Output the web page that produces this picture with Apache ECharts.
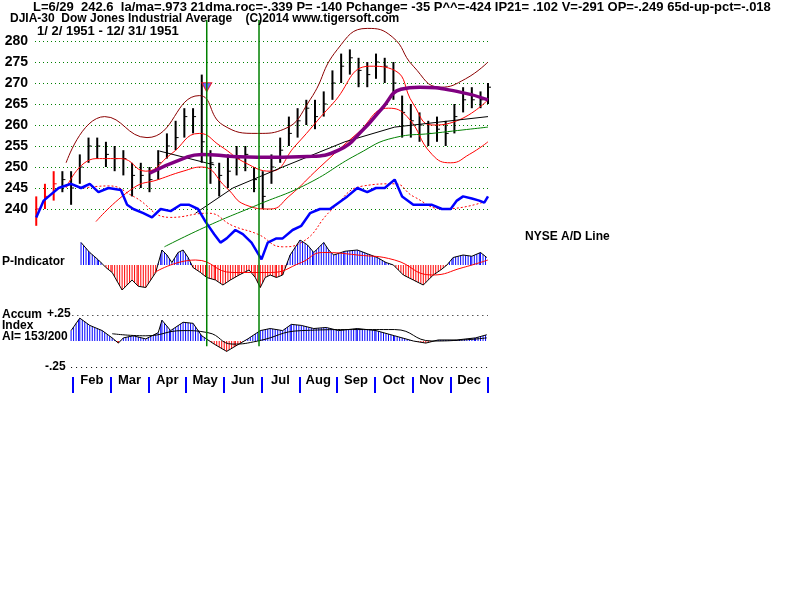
<!DOCTYPE html>
<html><head><meta charset="utf-8">
<script src="https://cdn.jsdelivr.net/npm/echarts@6/dist/echarts.min.js"></script>
<style>body{margin:0;background:#fff}#c{width:800px;height:600px}</style>
</head><body><div id="c"></div>
<script>
const weekDays=[2,9,16,23,30,37,44,51,58,65,72,79,86,93,100,107,114,121,128,135,142,149,156,163,170,177,184,191,198,205,212,219,226,233,240,247,254,261,268,275,282,289,296,303,310,317,324,331,338,345,352,359,365];
const closes=[240,243,246,247,245,250,255,255,253,252,252,248,248,247,251,255,257,262,262,256,251,248,249,252,253,247,243,250,254,258,261,264,262,265,270,274,276,273,272,275,274,270,263,261,260,258,259,258,262,266,266,266,269];
const highs=[243,246,249,249,249,253,257,257,256,255,254,251,251,250,254,258,261,264,264,272,254,251,253,255,255,250,249,253,257,262,264,266,266,268,273,277,278,276,275,277,276,275,267,265,263,261,262,261,265,269,269,268,270];
const lows=[236,240,242,244,241,246,251,252,250,249,248,243,245,244,247,252,254,257,258,251,246,243,245,248,249,244,240,246,251,255,257,260,259,262,266,270,272,269,269,271,270,266,257,257,256,255,256,255,258,263,264,264,265];
const upperOuter=[[26,251],[57,262],[91,257],[133,267],[152,260],[180,258],[201,259],[222,266],[244,278],[268,283],[288,281],[305,274],[327,269],[347,271],[365,275]];
const upperInner=[[26,245],[50,252],[70,252],[90,249],[110,253],[133,258],[150,255],[170,251],[190,249],[210,255],[240,265],[270,274],[290,273],[305,265],[320,260],[340,261],[365,266]];
const lowerInner=[[50,237],[80,245],[100,247],[120,249],[135,250],[155,245],[170,241],[190,240],[205,243],[230,250],[260,258],[285,264],[300,262],[320,253],[335,251],[350,253],[365,256]];
const purpleMA=[[93,248.5],[120,252],[135,253],[160,252.5],[180,252.3],[220,252.5],[245,254],[265,259],[280,264],[295,268.5],[310,269],[340,268],[365,266]];
const blackTrend1=[[101,253.8],[145,250.5]];
const blackTrend2=[[130,239],[160,245],[200,250],[250,256],[290,259.5],[365,262]];
const greenTrend=[[105,231],[140,236],[180,241],[220,246],[260,253],[290,257],[320,258],[365,259.5]];
const adLine=[[2,238],[8,242],[12,243],[20,245],[30,246],[38,245],[45,246],[52,244],[60,245],[70,244.5],[75,241],[80,240],[88,239],[95,238],[102,240],[110,239.5],[118,241],[125,241],[132,240],[138,237],[145,234],[150,232],[155,233],[162,235],[168,234],[175,232],[183,228],[188,232],[195,233],[200,233],[208,235],[215,236],[222,239],[230,240],[238,240],[245,241.5],[252,243],[260,245],[268,244],[275,245],[282,245],[290,247],[296,243],[305,241],[312,241],[320,241],[328,240],[335,240],[340,242],[345,243],[352,242.5],[358,242],[362,241.5],[365,243]];
const adMA=[[40,245],[60,245.5],[80,243],[110,238],[140,239],[160,236],[180,234],[200,231],[215,232],[240,240],[265,245.5],[290,246],[305,243],[330,240],[365,242]];
const pInd=[[38,0.9],[45,0.5],[52,0.2],[58,-0.1],[63,-0.3],[71,-1.0],[79,-0.6],[84,-0.85],[90,-0.9],[98,-0.3],[103,0.6],[107,0.4],[111,0.1],[116,0.5],[120,0.6],[124,0.3],[128,-0.1],[134,-0.3],[139,-0.5],[146,-0.6],[152,-0.8],[158,-0.6],[165,-0.4],[173,-0.2],[178,-0.5],[182,-0.9],[186,-0.5],[190,-0.4],[195,-0.5],[200,-0.4],[206,0.4],[214,1.0],[220,0.8],[225,0.5],[233,0.9],[237,0.6],[241,0.4],[250,0.55],[260,0.6],[268,0.45],[276,0.3],[283,0.1],[289,0],[297,-0.4],[305,-0.6],[313,-0.8],[321,-0.4],[327,-0.2],[332,0],[337,0.3],[345,0.4],[352,0.35],[359,0.5],[364,0.3]];
const pMA=[[97,-0.3],[130,0.2],[160,-0.3],[190,-0.3],[215,0.1],[232,0.5],[260,0.4],[290,0.2],[320,-0.4],[345,-0.1],[365,0.2]];
const accum=[[30,0.1],[37,0.22],[45,0.15],[55,0.1],[63,0.03],[68,-0.02],[72,0.03],[80,0.05],[90,0.02],[100,0.08],[103,0.2],[110,0.1],[120,0.18],[128,0.17],[135,0.05],[145,-0.03],[155,-0.1],[162,-0.05],[172,0.02],[182,0.1],[190,0.12],[200,0.1],[207,0.16],[215,0.15],[225,0.12],[235,0.13],[245,0.1],[260,0.12],[275,0.1],[290,0.05],[305,0.0],[315,-0.02],[325,0.01],[340,0.01],[355,0.03],[364,0.06]];
const accumMA=[[63,0.07],[90,0.05],[120,0.1],[140,0.08],[160,-0.03],[180,0.0],[215,0.1],[260,0.11],[290,0.11],[320,0.0],[345,0.01],[364,0.03]];
const months=['Feb','Mar','Apr','May','Jun','Jul','Aug','Sep','Oct','Nov','Dec'];
const priceTicks=[240,245,250,255,260,265,270,275,280];
const signalDays=[139,181];
const arrowPoint=[[139,269]];

const bars=weekDays.map((d,i)=>[d,closes[i],lows[i],highs[i]]);
const F='Liberation Sans';
const chart=echarts.init(document.getElementById('c'));
const L=35,R=312;
function hatch(src){
 return (p,api)=>{
  const i=p.dataIndex; if(i>=src.length-1) return null;
  const a=src[i],b=src[i+1];
  const pa=api.coord(a),pb=api.coord(b),z=api.coord([a[0],0])[1];
  const kids=[];
  for(let x=pa[0];x<pb[0];x+=2.5){
    const t=(x-pa[0])/(pb[0]-pa[0]||1),y=pa[1]+(pb[1]-pa[1])*t;
    kids.push({type:'line',shape:{x1:x,y1:z,x2:x,y2:y},style:{stroke:y>z?'#ff0000':'#0000ff',lineWidth:1}});
  }
  return {type:'group',children:kids};
 };
}
const dotted={color:'#000',type:[1,4],width:1};
chart.setOption({
 animation:false,
 grid:[{left:L,right:R,top:20,height:210},{left:L,right:R,top:240,height:50},{left:L,right:R,top:315,height:52},{left:73,right:R,top:377,height:16}],
 xAxis:[0,1,2].map(i=>({gridIndex:i,type:'value',min:1,max:365,show:false})).concat([{gridIndex:3,type:'category',data:months,boundaryGap:true,axisLine:{show:false},axisTick:{show:true,inside:true,length:16,lineStyle:{color:'#0000ff',width:2}},axisLabel:{margin:-13,verticalAlign:'middle',fontFamily:F,fontWeight:'bold',fontSize:13,color:'#000'}}]),
 yAxis:[{gridIndex:0,type:'value',min:235,max:285,interval:5,axisLine:{show:false},axisTick:{show:false},
   splitLine:{show:true,showMinLine:false,showMaxLine:false,lineStyle:{color:'#008000',type:[1,3]}},
   axisLabel:{margin:7,fontFamily:F,fontWeight:'bold',fontSize:14,color:'#000',formatter:v=>priceTicks.includes(v)?String(v):''}},
  {gridIndex:1,type:'value',min:-1,max:1,show:false},
  {gridIndex:2,type:'value',min:-0.25,max:0.25,show:false},
  {gridIndex:3,type:'value',show:false}],
 series:[
  {type:'line',data:upperOuter,smooth:true,symbol:'none',lineStyle:{color:'#8b0000',width:1}},
  {type:'line',data:upperInner,smooth:true,symbol:'none',lineStyle:{color:'#ff0000',width:1}},
  {type:'line',data:lowerInner,smooth:true,symbol:'none',lineStyle:{color:'#ff0000',width:1}},
  {type:'line',data:blackTrend1,symbol:'none',lineStyle:{color:'#000',width:1}},
  {type:'line',data:blackTrend2,symbol:'none',lineStyle:{color:'#000',width:1}},
  {type:'line',data:greenTrend,smooth:true,symbol:'none',clip:false,lineStyle:{color:'#008000',width:1}},
  {type:'line',data:adMA,smooth:true,symbol:'none',clip:false,lineStyle:{color:'#ff0000',width:1,type:[2,2]}},
  {type:'line',data:adLine,symbol:'none',clip:false,lineStyle:{color:'#0000ff',width:2.5}},
  {type:'line',data:purpleMA,smooth:true,symbol:'none',lineStyle:{color:'#800080',width:3.5}},
  {type:'custom',xAxisIndex:0,yAxisIndex:0,data:bars,renderItem:(p,api)=>{
     const x=api.value(0),lo=api.coord([x,api.value(2)]),hi=api.coord([x,api.value(3)]),c=api.coord([x,api.value(1)]);
     const col=p.dataIndex<3?'#ff0000':'#000';
     return {type:'group',children:[
      {type:'line',shape:{x1:lo[0],y1:lo[1],x2:hi[0],y2:hi[1]},style:{stroke:col,lineWidth:2}},
      {type:'line',shape:{x1:c[0],y1:c[1],x2:c[0]+3,y2:c[1]},style:{stroke:col,lineWidth:1}}]};
   }},
  {type:'custom',xAxisIndex:1,yAxisIndex:1,data:pInd,renderItem:hatch(pInd)},
  {type:'line',xAxisIndex:1,yAxisIndex:1,data:pInd,symbol:'none',lineStyle:{color:'#000',width:1}},
  {type:'line',xAxisIndex:1,yAxisIndex:1,data:pMA,smooth:true,symbol:'none',lineStyle:{color:'#ff0000',width:1}},
  {type:'custom',xAxisIndex:2,yAxisIndex:2,data:accum,renderItem:hatch(accum)},
  {type:'line',xAxisIndex:2,yAxisIndex:2,data:accum,symbol:'none',lineStyle:{color:'#000',width:1},
    markLine:{silent:true,symbol:'none',label:{show:false},lineStyle:dotted,
      data:[[{coord:[31,0.25]},{coord:[365,0.25]}],[{coord:[30,-0.25]},{coord:[365,-0.25]}]]}},
  {type:'line',xAxisIndex:2,yAxisIndex:2,data:accumMA,smooth:true,symbol:'none',lineStyle:{color:'#000',width:1}},
  {type:'scatter',xAxisIndex:0,yAxisIndex:0,data:arrowPoint,symbol:'triangle',symbolRotate:180,symbolSize:[10,9],itemStyle:{color:'#4040ff',borderColor:'#ff0000',borderWidth:1}}
 ]
});
const T=(x,y,t,s)=>({type:'text',left:x,top:y,style:{text:t,font:'bold '+(s||13)+'px "'+F+'"',fill:'#000'},z:101});
const texts=[
 T(33,1,'L=6/29  242.6  la/ma=.973 21dma.roc=-.339 P= -140 Pchange= -35 P^^=-424 IP21= .102 V=-291 OP=-.249 65d-up-pct=-.018',13),
 T(10,13,'DJIA-30  Dow Jones Industrial Average    (C)2014 www.tigersoft.com',12),
 T(37,25,'1/ 2/ 1951 - 12/ 31/ 1951',13),
 T(525,231,'NYSE A/D Line',12),
 T(2,256,'P-Indicator',12),
 T(2,309,'Accum',12),T(47,308,'+.25',12),T(2,320,'Index',12),T(2,331,'AI= 153/200',12),
 T(45,361,'-.25',12)];
let vlines=[];
try{
 const yTop=chart.convertToPixel({gridIndex:0},[1,285])[1];
 const yBot=chart.convertToPixel({gridIndex:2},[1,-0.05])[1];
 vlines=signalDays.map(d=>{const x=chart.convertToPixel({gridIndex:0},[d,260])[0];
  return {type:'line',shape:{x1:x,y1:yTop,x2:x,y2:yBot},style:{stroke:'#008000',lineWidth:1.5},z:100};});
}catch(e){}
chart.setOption({graphic:vlines.concat(texts)});
</script></body></html>
